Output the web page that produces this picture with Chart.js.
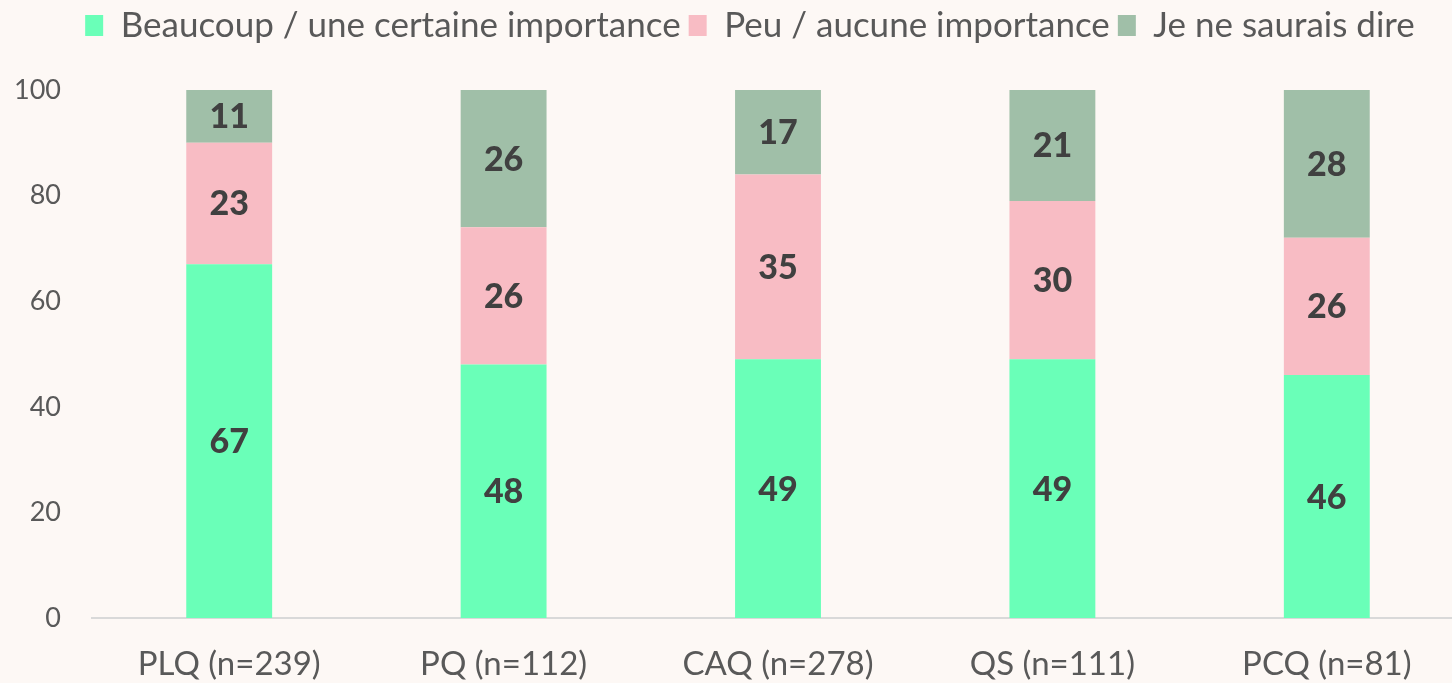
<!DOCTYPE html>
<html>
<head>
<meta charset="utf-8">
<script src="https://cdn.jsdelivr.net/npm/chart.js@4/dist/chart.umd.min.js"></script>
<style>
  html, body { margin: 0; padding: 0; background: #FDF8F5; overflow: hidden; }
  #wrap { width: 1464px; height: 683px; position: relative; }
</style>
</head>
<body>
<div id="wrap"><canvas id="importance-chart"></canvas></div>
<script>
/* data */
let parties = ['PLQ (n=239)', 'PQ (n=112)', 'CAQ (n=278)', 'QS (n=111)', 'PCQ (n=81)']
let beaucoup = [67, 48, 49, 49, 46]
let peu = [23, 26, 35, 30, 26]
let neSaisPas = [11, 26, 17, 21, 28]
let seriesNames = ['Beaucoup / une certaine importance', 'Peu / aucune importance', 'Je ne saurais dire']
let yTicks = [0, 20, 40, 60, 80, 100]

let seriesColors = ['#6AFFB8', '#F8BCC4', '#A0BFA8']
let textGrey = '#595959'
let fontName = 'Lato, "Open Sans", sans-serif'

// writes the value in the middle of each visible bar piece
let barLabels = {
    id: 'barLabels',
    afterDatasetsDraw(chart) {
        let ctx = chart.ctx
        let area = chart.chartArea
        ctx.save()
        ctx.font = '900 34px ' + fontName
        ctx.fillStyle = '#404040'
        ctx.textAlign = 'center'
        ctx.textBaseline = 'middle'
        chart.data.datasets.forEach(function(ds, i) {
            let meta = chart.getDatasetMeta(i)
            meta.data.forEach(function(bar, j) {
                let top = Math.max(bar.y, area.top)
                let bottom = Math.min(bar.base, area.bottom)
                ctx.fillText(ds.data[j], bar.x, (top + bottom) / 2 + 1)
            })
        })
        ctx.restore()
    }
}

// legend: fixed height so the plot starts lower, and nudged right a bit
let legendTweak = {
    id: 'legendTweak',
    beforeUpdate(chart) {
        let legend = chart.legend
        if (legend && !legend._tweaked) {
            let origFit = legend.fit
            legend.fit = function() {
                origFit.call(this)
                this.height = 90
            }
            legend._tweaked = true
        }
    },
    afterUpdate(chart) {
        let legend = chart.legend
        if (legend) {
            legend.left += 18
            legend.right += 18
            legend.adjustHitBoxes()
        }
    }
}

let chartCanvas = document.querySelector('#importance-chart')
let ctx = chartCanvas.getContext('2d')

let importanceChart = new Chart(ctx, {
    type: 'bar',
    data: {
        labels: parties,
        datasets: [
            { label: seriesNames[0], data: beaucoup, backgroundColor: seriesColors[0] },
            { label: seriesNames[1], data: peu, backgroundColor: seriesColors[1] },
            { label: seriesNames[2], data: neSaisPas, backgroundColor: seriesColors[2] }
        ]
    },
    options: {
        responsive: true,
        maintainAspectRatio: false,
        animation: false,
        layout: { padding: 0 },
        datasets: {
            bar: { barPercentage: 0.313, categoryPercentage: 1, borderWidth: 0 }
        },
        plugins: {
            tooltip: { enabled: false },
            legend: {
                position: 'top',
                labels: {
                    color: textGrey,
                    font: { family: fontName, size: 35 },
                    boxWidth: 18,
                    boxHeight: 21,
                    padding: 8
                }
            }
        },
        scales: {
            x: {
                stacked: true,
                afterFit(scale) { scale.height = 65 },
                grid: { display: false, drawTicks: false },
                border: { display: true, color: '#D9D9D9', width: 2 },
                ticks: {
                    color: textGrey,
                    font: { family: fontName, size: 33, lineHeight: 1 },
                    padding: 30,
                    maxRotation: 0
                }
            },
            y: {
                stacked: true,
                min: 0,
                max: 100,
                afterBuildTicks(scale) {
                    scale.ticks = yTicks.map(function(v) { return { value: v } })
                },
                afterFit(scale) { scale.width = 92 },
                grid: { display: false, drawTicks: false },
                border: { display: false },
                ticks: {
                    color: textGrey,
                    font: { family: fontName, size: 27 },
                    padding: 31
                }
            }
        }
    },
    plugins: [barLabels, legendTweak]
})
</script>
</body>
</html>
